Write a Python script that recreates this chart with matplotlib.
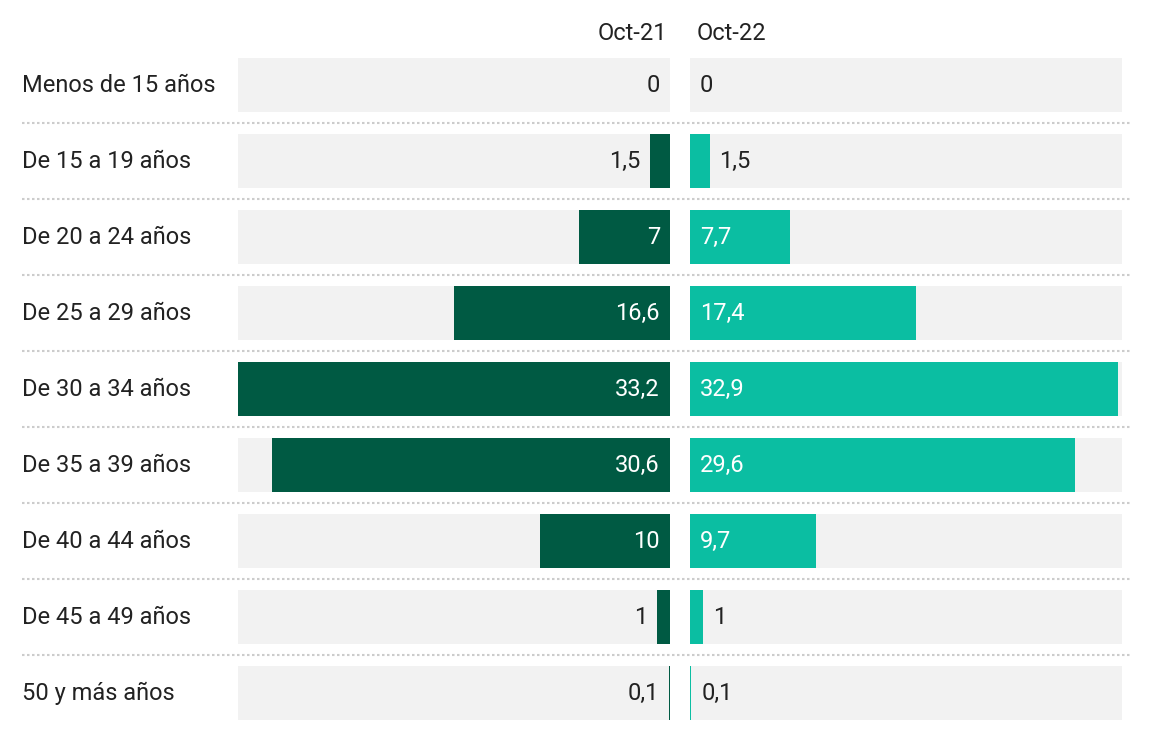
import matplotlib
matplotlib.use("Agg")
import matplotlib.pyplot as plt
from matplotlib import transforms
from matplotlib.lines import Line2D

plt.rcParams['font.family'] = ['Roboto', 'DejaVu Sans']

categorias = ["Menos de 15 años", "De 15 a 19 años", "De 20 a 24 años",
              "De 25 a 29 años", "De 30 a 34 años", "De 35 a 39 años",
              "De 40 a 44 años", "De 45 a 49 años", "50 y más años"]
oct21 = [0, 1.5, 7, 16.6, 33.2, 30.6, 10, 1, 0.1]
oct22 = [0, 1.5, 7.7, 17.4, 32.9, 29.6, 9.7, 1, 0.1]
series = ["Oct-21", "Oct-22"]

c_dark = "#005a43"
c_teal = "#0bbea2"
c_bg = "#f2f2f2"
c_text = "#222222"
fs = 17

W, H = 1152, 740
fig = plt.figure(figsize=(W / 100, H / 100), dpi=100)

vmax = max(max(oct21), max(oct22))
ymin, ymax = 731, 47
ax_l = fig.add_axes([238 / W, (H - ymin) / H, 432 / W, (ymin - ymax) / H])
ax_r = fig.add_axes([690 / W, (H - ymin) / H, 432 / W, (ymin - ymax) / H])

y = list(range(len(categorias)))
fmt = lambda v: f"{v:g}".replace(".", ",")

for ax, vals, col, side in [(ax_l, oct21, c_dark, -1), (ax_r, oct22, c_teal, 1)]:
    ax.barh(y, [vmax] * len(y), height=0.71, color=c_bg, zorder=1)
    ax.barh(y, vals, height=0.71, color=col, zorder=2)
    ax.set_xlim(0, vmax)
    ax.set_ylim(len(y) - 0.5, -0.5)
    if side < 0:
        ax.invert_xaxis()
    ax.axis("off")
    for yi, v in zip(y, vals):
        inside = v >= 5
        xpos = 0 if inside else v
        ha = "right" if side < 0 else "left"
        ax.annotate(fmt(v), (xpos, yi), xytext=(10 * side, 0),
                    textcoords="offset pixels", ha=ha, va="center",
                    fontsize=fs, color="white" if inside else c_text, zorder=3)

# column headers
fig.text(667 / W, 1 - 34 / H, series[0], ha="right", va="center", fontsize=fs, color=c_text)
fig.text(697 / W, 1 - 34 / H, series[1], ha="left", va="center", fontsize=fs, color=c_text)

# category labels
tr = transforms.blended_transform_factory(fig.transFigure, ax_l.transData)
for yi, cat in zip(y, categorias):
    fig.text(22 / W, yi, cat, transform=tr, ha="left", va="center",
             fontsize=fs, color=c_text)

# dotted separators
for yi in y[:-1]:
    fig.add_artist(Line2D([22 / W, 1130 / W], [yi + 0.5, yi + 0.5], transform=tr,
                          color="#cccccc", lw=1.5, linestyle=(0, (1.2, 1.2))))

fig.savefig("out.png", dpi=100)
